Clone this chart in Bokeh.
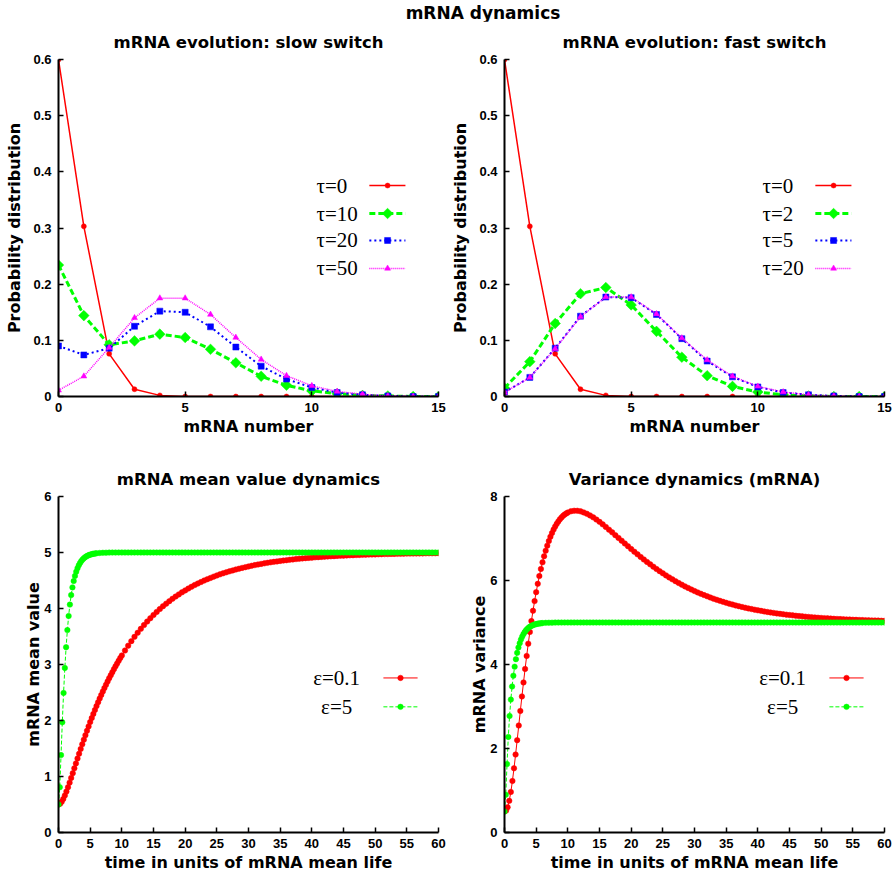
import math
from bokeh.plotting import figure
from bokeh.layouts import column, row
from bokeh.models import Div
from bokeh.core.properties import value
from bokeh.embed import file_html
from bokeh.resources import INLINE

# ---------------- data ----------------
main_title = "mRNA dynamics"
titles = ["mRNA evolution: slow switch", "mRNA evolution: fast switch",
          "mRNA mean value dynamics", "Variance dynamics (mRNA)"]

mrna_number = list(range(16))

slow_labels = ["\u03c4=0", "\u03c4=10", "\u03c4=20", "\u03c4=50"]
slow_tau0 = [0.600, 0.303, 0.076, 0.013, 0.002, 0.000, 0.000, 0.000, 0.000, 0.000, 0.000, 0.000, 0.000, 0.000, 0.000, 0.000]
slow_tau10 = [0.234, 0.144, 0.092, 0.099, 0.111, 0.105, 0.084, 0.060, 0.036, 0.020, 0.010, 0.005, 0.002, 0.001, 0.000, 0.000]
slow_tau20 = [0.090, 0.074, 0.086, 0.125, 0.152, 0.150, 0.124, 0.088, 0.054, 0.031, 0.016, 0.007, 0.003, 0.001, 0.000, 0.000]
slow_tau50 = [0.011, 0.036, 0.087, 0.140, 0.175, 0.175, 0.146, 0.105, 0.066, 0.037, 0.019, 0.009, 0.004, 0.001, 0.000, 0.000]

fast_labels = ["\u03c4=0", "\u03c4=2", "\u03c4=5", "\u03c4=20"]
fast_tau0 = [0.600, 0.303, 0.076, 0.013, 0.002, 0.000, 0.000, 0.000, 0.000, 0.000, 0.000, 0.000, 0.000, 0.000, 0.000, 0.000]
fast_tau2 = [0.015, 0.062, 0.130, 0.183, 0.194, 0.163, 0.116, 0.070, 0.037, 0.018, 0.008, 0.003, 0.001, 0.000, 0.000, 0.000]
fast_tau5 = [0.008, 0.034, 0.086, 0.143, 0.177, 0.176, 0.146, 0.103, 0.063, 0.035, 0.017, 0.007, 0.003, 0.001, 0.000, 0.000]
fast_tau20 = [0.007, 0.034, 0.085, 0.142, 0.177, 0.177, 0.147, 0.104, 0.065, 0.036, 0.018, 0.008, 0.003, 0.001, 0.000, 0.000]

eps_labels = ["\u03b5=0.1", "\u03b5=5"]

# sampling times of the two time courses
t_slow = [0.25 * i for i in range(41)] + [10.5 + 0.5 * i for i in range(100)]
t_fast = [0.2 * i for i in range(31)] + [6.5 + 0.5 * i for i in range(108)]

mean_eps01 = [
    0.500, 0.513, 0.547, 0.597, 0.660, 0.731, 0.808, 0.890, 0.974, 1.060,
    1.147, 1.234, 1.321, 1.407, 1.492, 1.575, 1.658, 1.738, 1.817, 1.895,
    1.971, 2.045, 2.117, 2.188, 2.257, 2.325, 2.391, 2.455, 2.518, 2.579,
    2.638, 2.697, 2.754, 2.809, 2.863, 2.916, 2.967, 3.017, 3.066, 3.114,
    3.161,
    3.250, 3.336, 3.417, 3.494, 3.567, 3.637, 3.704, 3.767, 3.827, 3.884,
    3.939, 3.991, 4.040, 4.087, 4.131, 4.174, 4.214, 4.252, 4.289, 4.323,
    4.356, 4.388, 4.418, 4.446, 4.473, 4.499, 4.523, 4.546, 4.569, 4.590,
    4.610, 4.629, 4.647, 4.664, 4.680, 4.696, 4.711, 4.725, 4.738, 4.751,
    4.763, 4.775, 4.786, 4.796, 4.806, 4.816, 4.825, 4.833, 4.841, 4.849,
    4.856, 4.863, 4.870, 4.876, 4.882, 4.888, 4.894, 4.899, 4.904, 4.908,
    4.913, 4.917, 4.921, 4.925, 4.929, 4.932, 4.935, 4.939, 4.942, 4.944,
    4.947, 4.950, 4.952, 4.955, 4.957, 4.959, 4.961, 4.963, 4.965, 4.966,
    4.968, 4.970, 4.971, 4.972, 4.974, 4.975, 4.976, 4.977, 4.979, 4.980,
    4.981, 4.982, 4.982, 4.983, 4.984, 4.985, 4.986, 4.986, 4.987, 4.988,
]

var_eps01 = [
    0.500, 0.521, 0.603, 0.753, 0.965, 1.228, 1.529, 1.856, 2.198, 2.547,
    2.895, 3.239, 3.573, 3.895, 4.203, 4.496, 4.774, 5.035, 5.280, 5.509,
    5.723, 5.921, 6.106, 6.276, 6.433, 6.577, 6.709, 6.830, 6.940, 7.040,
    7.130, 7.212, 7.285, 7.350, 7.407, 7.457, 7.501, 7.539, 7.571, 7.597,
    7.619,
    7.648, 7.661, 7.660, 7.646, 7.622, 7.590, 7.550, 7.503, 7.452, 7.396,
    7.337, 7.275, 7.211, 7.146, 7.080, 7.014, 6.947, 6.881, 6.815, 6.750,
    6.686, 6.623, 6.561, 6.501, 6.442, 6.385, 6.329, 6.274, 6.222, 6.171,
    6.122, 6.074, 6.028, 5.984, 5.941, 5.900, 5.860, 5.822, 5.785, 5.750,
    5.717, 5.684, 5.653, 5.624, 5.595, 5.568, 5.542, 5.517, 5.493, 5.470,
    5.448, 5.427, 5.407, 5.388, 5.370, 5.352, 5.336, 5.320, 5.305, 5.290,
    5.277, 5.264, 5.251, 5.239, 5.228, 5.217, 5.206, 5.197, 5.187, 5.178,
    5.170, 5.161, 5.154, 5.146, 5.139, 5.133, 5.126, 5.120, 5.114, 5.109,
    5.104, 5.099, 5.094, 5.089, 5.085, 5.081, 5.077, 5.073, 5.070, 5.066,
    5.063, 5.060, 5.057, 5.054, 5.052, 5.049, 5.047, 5.045, 5.042, 5.040,
]

mean_eps5 = [
    0.500, 0.809, 1.382, 1.969, 2.493, 2.938, 3.309, 3.614, 3.865, 4.070,
    4.239, 4.377, 4.490, 4.582, 4.658, 4.720, 4.771, 4.812, 4.846, 4.874,
    4.897, 4.916, 4.931, 4.943, 4.954, 4.962, 4.969, 4.975, 4.979, 4.983,
    4.986,
    4.992, 4.995, 4.997, 4.998, 4.999, 4.999,
    5.0, 5.0, 5.0, 5.0, 5.0, 5.0, 5.0, 5.0, 5.0, 5.0, 5.0, 5.0, 5.0, 5.0, 5.0, 5.0, 5.0,
    5.0, 5.0, 5.0, 5.0, 5.0, 5.0, 5.0, 5.0, 5.0, 5.0, 5.0, 5.0, 5.0, 5.0, 5.0, 5.0, 5.0,
    5.0, 5.0, 5.0, 5.0, 5.0, 5.0, 5.0, 5.0, 5.0, 5.0, 5.0, 5.0, 5.0, 5.0, 5.0, 5.0, 5.0,
    5.0, 5.0, 5.0, 5.0, 5.0, 5.0, 5.0, 5.0, 5.0, 5.0, 5.0, 5.0, 5.0, 5.0, 5.0, 5.0, 5.0,
    5.0, 5.0, 5.0, 5.0, 5.0, 5.0, 5.0, 5.0, 5.0, 5.0, 5.0, 5.0, 5.0, 5.0, 5.0, 5.0, 5.0,
    5.0, 5.0, 5.0, 5.0, 5.0, 5.0, 5.0, 5.0, 5.0, 5.0, 5.0, 5.0, 5.0, 5.0, 5.0, 5.0, 5.0,
]

var_eps5 = [
    0.500, 0.897, 1.628, 2.275, 2.775, 3.164, 3.476, 3.733, 3.947, 4.127,
    4.277, 4.403, 4.507, 4.594, 4.666, 4.725, 4.774, 4.815, 4.848, 4.875,
    4.898, 4.916, 4.931, 4.944, 4.954, 4.962, 4.969, 4.975, 4.979, 4.983,
    4.986,
    4.992, 4.995, 4.997, 4.998, 4.999, 4.999,
    5.0, 5.0, 5.0, 5.0, 5.0, 5.0, 5.0, 5.0, 5.0, 5.0, 5.0, 5.0, 5.0, 5.0, 5.0, 5.0, 5.0,
    5.0, 5.0, 5.0, 5.0, 5.0, 5.0, 5.0, 5.0, 5.0, 5.0, 5.0, 5.0, 5.0, 5.0, 5.0, 5.0, 5.0,
    5.0, 5.0, 5.0, 5.0, 5.0, 5.0, 5.0, 5.0, 5.0, 5.0, 5.0, 5.0, 5.0, 5.0, 5.0, 5.0, 5.0,
    5.0, 5.0, 5.0, 5.0, 5.0, 5.0, 5.0, 5.0, 5.0, 5.0, 5.0, 5.0, 5.0, 5.0, 5.0, 5.0, 5.0,
    5.0, 5.0, 5.0, 5.0, 5.0, 5.0, 5.0, 5.0, 5.0, 5.0, 5.0, 5.0, 5.0, 5.0, 5.0, 5.0, 5.0,
    5.0, 5.0, 5.0, 5.0, 5.0, 5.0, 5.0, 5.0, 5.0, 5.0, 5.0, 5.0, 5.0, 5.0, 5.0, 5.0, 5.0,
]

prob_ticks = [0, 0.1, 0.2, 0.3, 0.4, 0.5, 0.6]
num_ticks = [0, 5, 10, 15]
time_ticks = list(range(0, 61, 5))
mean_ticks = [0, 1, 2, 3, 4, 5, 6]
var_ticks = [0, 2, 4, 6, 8]

# ---------------- styles ----------------
TOP_STYLES = [
    dict(color="#ff0000", dash="solid", width=1.5, marker="circle", size=5, angle=0.0),
    dict(color="#00ff00", dash="6 3", width=3, marker="square", size=7.5, angle=math.pi / 4),
    dict(color="#0000ff", dash="2 3", width=2, marker="square", size=6, angle=0.0),
    dict(color="#ff00ff", dash="1 1", width=1.5, marker="triangle", size=6, angle=0.0),
]
BOT_STYLES = [
    dict(color="#ff0000", dash="solid", width=1, marker="circle", size=5.5, angle=0.0),
    dict(color="#00ff00", dash="4 2", width=1, marker="circle", size=5.5, angle=0.0),
]

TICK_FONT = "Liberation Sans"
LABEL_FONT = "DejaVu Sans"
KEY_FONT = "Liberation Serif"


def make_fig(width, height, title, xlabel, ylabel, xr, yr, xticks, yticks,
             bl, br, bt, bb, xstand, xlabstand, ystand, ylabstand):
    p = figure(width=width, height=height, x_range=xr, y_range=yr,
               output_backend="svg", toolbar_location=None, title=title,
               min_border_left=bl, min_border_right=br,
               min_border_top=bt, min_border_bottom=bb)
    p.outline_line_color = None
    p.grid.visible = False
    p.background_fill_color = "white"
    p.border_fill_color = "white"
    p.title.align = "center"
    p.title.text_font = LABEL_FONT
    p.title.text_font_size = "16.5px"
    p.title.text_font_style = "bold"
    p.title.text_color = "black"
    p.title.standoff = 15
    p.xaxis.axis_label = xlabel
    p.yaxis.axis_label = ylabel
    p.xaxis.ticker = xticks
    p.yaxis.ticker = yticks
    for ax in (p.xaxis[0], p.yaxis[0]):
        ax.axis_line_width = 2
        ax.axis_line_color = "black"
        ax.major_tick_in = 5
        ax.major_tick_out = 0
        ax.minor_tick_in = 0
        ax.minor_tick_out = 0
        ax.major_tick_line_width = 1.5
        ax.major_tick_line_color = "black"
        ax.major_label_text_font = TICK_FONT
        ax.major_label_text_font_style = "bold"
        ax.major_label_text_font_size = "13px"
        ax.major_label_text_color = "black"
        ax.axis_label_text_font = LABEL_FONT
        ax.axis_label_text_font_style = "bold"
        ax.axis_label_text_font_size = "16px"
        ax.axis_label_text_color = "black"
    p.xaxis.major_label_standoff = xstand
    p.xaxis.axis_label_standoff = xlabstand
    p.yaxis.major_label_standoff = ystand
    p.yaxis.axis_label_standoff = ylabstand
    return p


def draw_series(p, x, y, st):
    n = min(len(x), len(y))
    p.line(x[:n], y[:n], line_color=st["color"], line_width=st["width"], line_dash=st["dash"])
    p.scatter(x[:n], y[:n], marker=st["marker"], size=st["size"], angle=st["angle"],
              fill_color=st["color"], line_color=st["color"], line_width=0.5)


def draw_key(p, xr, yr, labels, styles, text_fx, align, fx0, fx1, fxm, rows):
    xs = lambda f: xr[0] + f * (xr[1] - xr[0])
    ys = lambda f: yr[0] + f * (yr[1] - yr[0])
    for lab, st, fy in zip(labels, styles, rows):
        yy = ys(fy)
        p.text(x=[xs(text_fx)], y=[yy], text=[lab], text_font=value(KEY_FONT),
               text_font_size="21px", text_align=align, text_baseline="middle",
               text_color="black")
        p.line([xs(fx0), xs(fx1)], [yy, yy], line_color=st["color"],
               line_width=st["width"], line_dash=st["dash"])
        p.scatter([xs(fxm)], [yy], marker=st["marker"], size=st["size"], angle=st["angle"],
                  fill_color=st["color"], line_color=st["color"], line_width=0.5)


TOP_ROWS = [0.626, 0.543, 0.463, 0.380]
BOT_ROWS = [0.460, 0.374]

# ---------------- top row ----------------
xr_top = (0, 15)
yr_top = (0, 0.6)
figs = []
for i, (title, series, labels) in enumerate([
        (titles[0], [slow_tau0, slow_tau10, slow_tau20, slow_tau50], slow_labels),
        (titles[1], [fast_tau0, fast_tau2, fast_tau5, fast_tau20], fast_labels)]):
    w, br = (446, 8) if i == 0 else (448, 10)
    p = make_fig(w, 419, title, "mRNA number", "Probability distribution",
                 xr_top, yr_top, num_ticks, prob_ticks,
                 58, br, 38, 44, 6, 2, 7, 6)
    p.yaxis.major_label_overrides = {0: "0"}
    for ys_, st in zip(series, TOP_STYLES):
        draw_series(p, mrna_number, ys_, st)
    draw_key(p, xr_top, yr_top, labels, TOP_STYLES, 0.679, "left", 0.818, 0.913, 0.866, TOP_ROWS)
    figs.append(p)

# ---------------- bottom row ----------------
xr_bot = (0, 60)
for i, (title, ylabel, yr, yt, s_slow, s_fast) in enumerate([
        (titles[2], "mRNA mean value", (0, 6), mean_ticks, mean_eps01, mean_eps5),
        (titles[3], "mRNA variance", (0, 8), var_ticks, var_eps01, var_eps5)]):
    w, br = (446, 8) if i == 0 else (448, 10)
    p = make_fig(w, 434, title, "time in units of mRNA mean life", ylabel,
                 xr_bot, yr, time_ticks, yt,
                 58, br, 56, 41, 6, 2, 7, -2)
    draw_series(p, t_slow, s_slow, BOT_STYLES[0])
    draw_series(p, t_fast, s_fast, BOT_STYLES[1])
    draw_key(p, xr_bot, yr, eps_labels, BOT_STYLES, 0.732, "center", 0.855, 0.945, 0.900, BOT_ROWS)
    figs.append(p)

head = Div(text=('<div style="width:894px;box-sizing:border-box;padding-left:72px;padding-top:6px;'
                 'text-align:center;font-family:\'DejaVu Sans\';font-weight:bold;font-size:17px;'
                 'line-height:15px;color:black;white-space:nowrap;">'
                 + main_title + '</div>'),
           width=894, height=21, margin=(0, 0, 0, 0))

layout = column(head, row(figs[0], figs[1]), row(figs[2], figs[3]))

with open("out.html", "w") as f:
    f.write(file_html(layout, INLINE))
